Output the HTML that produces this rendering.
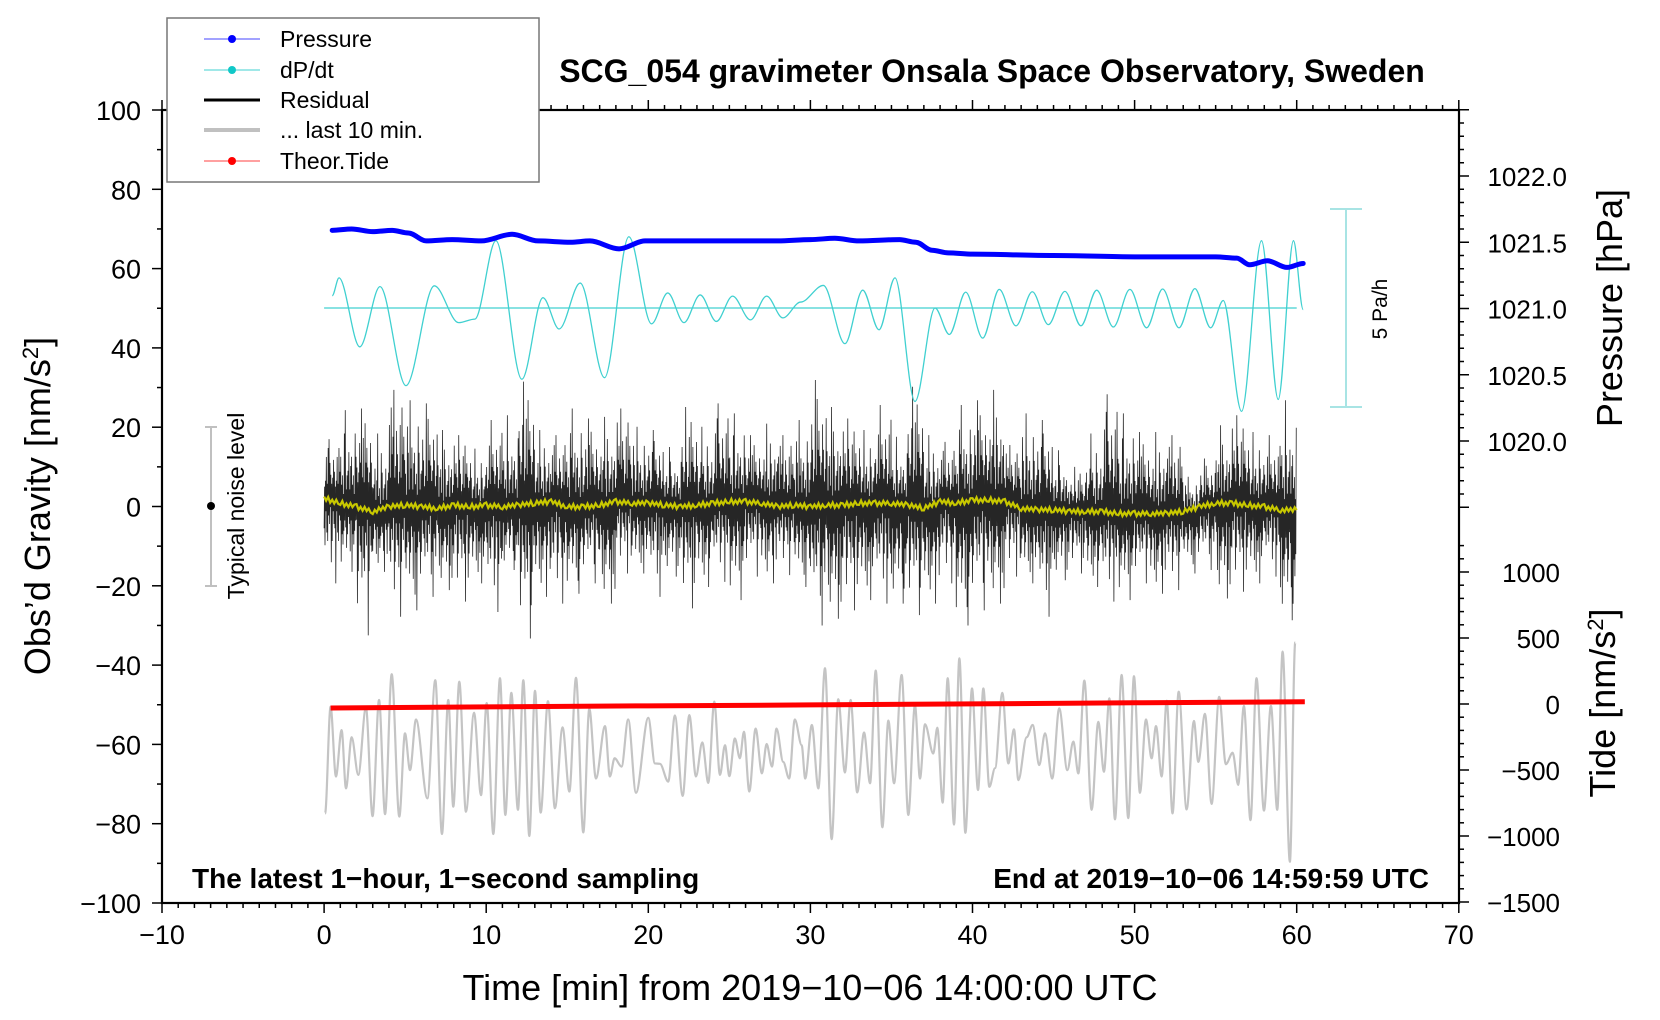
<!DOCTYPE html>
<html><head><meta charset="utf-8"><style>
html,body{margin:0;padding:0;background:#fff;}
svg{display:block;font-family:"Liberation Sans",Arial,sans-serif;}
</style></head><body>
<svg id="chart" width="1660" height="1020" viewBox="0 0 1660 1020" xmlns="http://www.w3.org/2000/svg">
<rect x="0" y="0" width="1660" height="1020" fill="#fff"/>
<g id="series"></g>
<g id="axes"></g>
<text x="992" y="82" font-size="32" font-weight="bold" text-anchor="middle">SCG_054 gravimeter Onsala Space Observatory, Sweden</text>
<text x="192" y="888" font-size="28" font-weight="bold">The latest 1−hour, 1−second sampling</text>
<text x="1429" y="888" font-size="28" font-weight="bold" text-anchor="end">End at 2019−10−06 14:59:59 UTC</text>
<text x="810" y="1000" font-size="36" text-anchor="middle">Time [min] from 2019−10−06 14:00:00 UTC</text>
<text transform="translate(50,506) rotate(-90)" font-size="36" text-anchor="middle">Obs’d Gravity [nm/s<tspan font-size="22" baseline-shift="super">2</tspan>]</text>
<text transform="translate(1622,308) rotate(-90)" font-size="36" text-anchor="middle">Pressure [hPa]</text>
<text transform="translate(1615,703) rotate(-90)" font-size="36" text-anchor="middle">Tide [nm/s<tspan font-size="22" baseline-shift="super">2</tspan>]</text>
<g>
<line x1="211" y1="427" x2="211" y2="586" stroke="#c0c0c0" stroke-width="2"/>
<line x1="205" y1="427" x2="217" y2="427" stroke="#c0c0c0" stroke-width="2"/>
<line x1="205" y1="586" x2="217" y2="586" stroke="#c0c0c0" stroke-width="2"/>
<circle cx="211" cy="506" r="4" fill="#000"/>
<text transform="translate(244,506) rotate(-90)" font-size="23" text-anchor="middle">Typical noise level</text>
</g>
<g>
<line x1="1346" y1="209" x2="1346" y2="407" stroke="#a8e4e4" stroke-width="2"/>
<line x1="1330" y1="209" x2="1362" y2="209" stroke="#a8e4e4" stroke-width="2"/>
<line x1="1330" y1="407" x2="1362" y2="407" stroke="#a8e4e4" stroke-width="2"/>
<text transform="translate(1387,309) rotate(-90)" font-size="21" text-anchor="middle">5 Pa/h</text>
</g>
<g>
<rect x="167" y="18" width="372" height="164" fill="#fff" stroke="#777" stroke-width="1.5"/>
<g><line x1="204" y1="39" x2="260" y2="39" stroke="#4444ff" stroke-width="1"/><circle cx="232" cy="39" r="4" fill="#0000ff"/><text x="280" y="47" font-size="23">Pressure</text></g>
<g><line x1="204" y1="70" x2="260" y2="70" stroke="#40d0d0" stroke-width="1"/><circle cx="232" cy="70" r="4" fill="#10c8c8"/><text x="280" y="78" font-size="23">dP/dt</text></g>
<g><line x1="204" y1="100" x2="260" y2="100" stroke="#000" stroke-width="3"/><text x="280" y="108" font-size="23">Residual</text></g>
<g><line x1="204" y1="130" x2="260" y2="130" stroke="#c0c0c0" stroke-width="4"/><text x="280" y="138" font-size="23">... last 10 min.</text></g>
<g><line x1="204" y1="161" x2="260" y2="161" stroke="#ff4040" stroke-width="1"/><circle cx="232" cy="161" r="4" fill="#ff0000"/><text x="280" y="169" font-size="23">Theor.Tide</text></g>
</g>
</svg>
<script>
// ---- data ----
const pressT = [0.5,1.7,3,4.2,5.2,6.3,7.9,9.7,11.6,13.2,15.2,16.4,18.2,19.8,22,25,28,30,31.5,33,35.5,36.5,37.5,38.5,40,45,50,55,56.3,57.1,58.2,59.4,60.4];
const pressV = [1021.59,1021.60,1021.58,1021.59,1021.57,1021.51,1021.52,1021.51,1021.56,1021.51,1021.50,1021.51,1021.45,1021.51,1021.51,1021.51,1021.51,1021.52,1021.53,1021.51,1021.52,1021.50,1021.44,1021.42,1021.41,1021.40,1021.39,1021.39,1021.38,1021.33,1021.36,1021.31,1021.34];
const dpdtT = [0.5,0.92,2.2,3.45,5.05,6.8,8.3,9.3,10.6,12.2,13.5,14.5,15.8,17.3,18.8,20.2,21.2,22.2,23.2,24.2,25.2,26.3,27.3,28.3,29.4,30.8,32.13,33.23,34.23,35.22,36.45,37.69,38.57,39.58,40.63,41.65,42.68,43.69,44.68,45.7,46.69,47.66,48.69,49.71,50.74,51.73,52.74,53.72,54.69,55.47,56.6,57.83,58.86,59.8,60.4];
const dpdtV = [0.31,0.76,-0.98,0.54,-1.96,0.56,-0.37,-0.28,1.7,-1.8,0.26,-0.53,0.63,-1.76,1.8,-0.4,0.38,-0.37,0.33,-0.34,0.3,-0.3,0.3,-0.25,0.15,0.57,-0.9,0.45,-0.55,0.76,-2.36,0.0,-0.67,0.4,-0.76,0.47,-0.45,0.41,-0.42,0.42,-0.45,0.45,-0.48,0.47,-0.5,0.48,-0.5,0.49,-0.5,0.19,-2.61,1.7,-2.31,1.7,-0.04];
const resHi = [17,24.3,24.7,18.4,29.4,26.8,26,19.3,18,14.6,21.8,23,31.5,19.3,18,24.7,22.2,22.6,24.7,20.1,19.3,15,25.1,20.1,26,23.5,18,20.9,18,21.8,31.9,25.1,22.2,19.3,25.6,17.6,30.2,18,16.3,25.6,26.8,29.4,15.5,23.5,21.8,14.2,10,18.4,28.3,23.5,18.8,18.8,18,7.5,12.1,20.5,23,18.8,18,26.8];
const resLo = [-19.4,-16.5,-32.5,-16.5,-27.8,-26.2,-22.8,-21.1,-24,-19.4,-26.6,-16,-33.3,-22.8,-24.5,-22,-19.4,-24.5,-16.9,-16.9,-22.8,-17.7,-25.7,-20.3,-19,-23.6,-17.7,-19.4,-17.3,-20.3,-30,-28.3,-26.2,-23.6,-24.5,-24.5,-27.4,-24.5,-19.4,-30,-26.2,-24.5,-17.7,-19.4,-27.8,-18.6,-16.9,-20.3,-24,-23.6,-19.4,-22,-21.1,-16.9,-16,-23.2,-21.5,-19.4,-17.7,-28.7];
const smoothV = [2.0,0.8,-0.1,-1.3,-0.1,0.3,-0.1,-0.5,0.3,-0.1,0.3,-0.1,0.3,0.8,1.2,-0.1,-0.1,0.3,1.2,0.8,0.8,0.3,-0.1,0.3,0.8,1.2,1.2,0.8,-0.1,0.3,-0.1,0.3,0.3,0.8,0.8,0.8,0.3,-0.5,1.2,0.8,1.6,1.6,1.2,-0.5,-0.9,-0.9,-1.3,-1.3,-1.3,-1.8,-1.8,-1.8,-1.8,-1.3,-0.1,0.8,0.8,0.3,-0.1,-0.9,-0.9];
const greyT = [0.06,0.40,0.73,1.08,1.35,1.70,2.11,2.58,2.99,3.39,3.76,4.17,4.64,4.99,5.30,5.67,6.37,6.86,7.27,7.66,7.97,8.34,8.75,9.25,9.68,10.03,10.44,10.85,11.18,11.55,11.96,12.29,12.66,13.01,13.36,13.81,14.24,14.71,15.13,15.54,15.99,16.36,16.77,17.33,17.63,17.92,18.35,18.76,19.24,20.0,20.41,20.72,21.23,21.64,22.12,22.53,22.94,23.33,23.70,24.07,24.42,24.73,25.0,25.34,25.65,25.90,26.23,26.62,27.01,27.30,27.63,27.91,28.32,28.69,29.04,29.46,29.68,30.09,30.49,30.90,31.31,31.72,32.13,32.48,32.89,33.31,33.68,34.03,34.44,34.81,35.16,35.63,36.04,36.45,36.76,37.07,37.58,37.83,38.16,38.47,38.86,39.19,39.56,39.97,40.34,40.67,41.04,41.39,41.84,42.21,42.56,42.83,43.34,43.71,44.12,44.47,44.92,45.35,45.85,46.22,46.53,46.90,47.35,47.76,48.11,48.44,48.79,49.20,49.61,49.96,50.33,50.70,51.05,51.32,51.67,51.98,52.34,52.72,53.21,53.66,53.93,54.34,54.75,55.22,55.63,56.05,56.39,56.74,57.15,57.52,57.98,58.41,58.80,59.13,59.58,59.91];
const greyV = [-77.4,-50.5,-68.1,-56.4,-71.1,-58.2,-67.7,-50.7,-78.1,-48.8,-77.6,-42.3,-78.2,-57.2,-66.5,-53.7,-73.6,-43.8,-82.6,-48.8,-75.7,-44.2,-77.0,-52.0,-72.8,-49.6,-82.6,-43.3,-77.8,-47.0,-76.5,-43.8,-83.1,-46.5,-77.2,-49.1,-76.1,-55.7,-71.9,-43.2,-82.2,-51.0,-68.6,-55.4,-68.1,-63.5,-65.6,-53.7,-72.2,-53.3,-64.8,-64.9,-69.4,-52.7,-73.0,-52.6,-68.1,-59.5,-69.7,-49.2,-67.7,-60.2,-68.0,-58.5,-63.5,-56.8,-71.9,-56.0,-67.3,-59.9,-65.6,-56.0,-64.4,-68.6,-53.7,-60.2,-68.6,-55.1,-71.1,-40.8,-83.9,-48.6,-67.1,-48.8,-72.1,-57.0,-69.8,-41.4,-80.9,-54.0,-69.8,-42.5,-77.8,-50.1,-68.6,-54.9,-62.3,-55.8,-74.7,-43.3,-80.2,-38.3,-82.3,-45.9,-71.5,-45.9,-70.7,-66.0,-47.0,-64.8,-56.2,-69.0,-58.2,-55.1,-65.2,-57.2,-68.6,-50.9,-66.5,-59.3,-67.3,-43.9,-76.5,-54.3,-66.9,-48.4,-78.9,-42.5,-78.6,-42.8,-72.2,-53.7,-63.5,-55.4,-68.1,-49.0,-77.4,-46.7,-76.4,-54.1,-64.4,-52.3,-75.0,-48.0,-65.0,-62.1,-70.2,-50.3,-79.1,-43.3,-76.7,-50.3,-76.5,-36.6,-89.6,-34.3];
const tideT = [0.4,10,20,30,40,50,60.5];
const tideV = [-30,-22,-14,-7,1,9,17];
const xTicks = [-10,0,10,20,30,40,50,60,70];
const yTicks = [-100,-80,-60,-40,-20,0,20,40,60,80,100];
const pTicks = [1020.0,1020.5,1021.0,1021.5,1022.0];
const tTicks = [-1500,-1000,-500,0,500,1000];

// ---- scales ----
const X = t => 324.1 + t*16.21;
const Yg = g => 506.5 - g*3.965;
const Yp = p => 176 + (1022 - p)*132.5;
const Yt = v => 704 - v*0.132;
const Yd = v => 308 - v*39.6;
const NS = 'http://www.w3.org/2000/svg';
const series = document.getElementById('series');
const axes = document.getElementById('axes');
function mk(tag, attrs, parent){ const e=document.createElementNS(NS,tag); for(const k in attrs) e.setAttribute(k,attrs[k]); parent.appendChild(e); return e; }
function smoothPath(ts, vs, fy){
  let d='M'+X(ts[0]).toFixed(2)+','+fy(vs[0]).toFixed(2);
  for(let i=1;i<ts.length;i++){
    const x0=X(ts[i-1]), x1=X(ts[i]), y0=fy(vs[i-1]), y1=fy(vs[i]), dx=(x1-x0)/3;
    d+=' C'+(x0+dx).toFixed(2)+','+y0.toFixed(2)+' '+(x1-dx).toFixed(2)+','+y1.toFixed(2)+' '+x1.toFixed(2)+','+y1.toFixed(2);
  }
  return d;
}

const grey = mk('path',{d:smoothPath(greyT,greyV,Yg),fill:'none',stroke:'#c4c4c4','stroke-width':2.2},series);



let td='';
tideT.forEach((t,i)=>{ td+=(i?' L':'M')+X(t).toFixed(2)+','+Yt(tideV[i]).toFixed(2); });
const tide = mk('path',{d:td,fill:'none',stroke:'#ff0000','stroke-width':5},series);



const mags=[0.35,0.2,0.55,0.3,0.15,0.7,0.4,0.25,0.5,0.85,0.2,0.45,0.3,0.6,0.1,0.4,0.75,0.25,0.5,0.35,0.15,0.65,0.3,0.45];
const N=36;
let rd='';
for(let i=0;i<resHi.length;i++){
  const mid=smoothV[i];
  for(let s=0;s<N;s++){
    const sign = s%2 ? 1 : -1;
    let m = mags[(s+i*7)%mags.length];
    if(s===11) m=1; if(s===26) m=1;
    const v = sign>0 ? mid + m*(resHi[i]-mid) : mid + m*(resLo[i]-mid);
    rd += (rd?' L':'M')+X(i+s/N).toFixed(2)+','+Yg(v).toFixed(2);
  }
}
const res = mk('path',{d:rd,fill:'none',stroke:'#000','stroke-width':0.8,'stroke-opacity':0.85},series);



const jit=[0.5,-0.4,0.7,-0.6,0.3,-0.5,0.6,-0.3];
let sd='';
for(let i=0;i<smoothV.length-1;i++){
  for(let s=0;s<8;s++){
    const f=s/8, v=smoothV[i]*(1-f)+smoothV[i+1]*f + jit[(s+i)%8];
    sd+=(sd?' L':'M')+X(i+f).toFixed(2)+','+Yg(v).toFixed(2);
  }
}
sd+=' L'+X(smoothV.length-1).toFixed(2)+','+Yg(smoothV[smoothV.length-1]).toFixed(2);
const sm = mk('path',{d:sd,fill:'none',stroke:'#c8c800','stroke-width':2.2},series);



const base = mk('line',{x1:X(0),y1:Yd(0),x2:X(60),y2:Yd(0),stroke:'#40d0d0','stroke-width':1.2},series);


const dp = mk('path',{d:smoothPath(dpdtT,dpdtV,Yd),fill:'none',stroke:'#40d0d0','stroke-width':1.3},series);



const pr = mk('path',{d:smoothPath(pressT,pressV,Yp),fill:'none',stroke:'#0000ff','stroke-width':5,'stroke-linecap':'round'},series);



const frame = mk('rect',{x:162,y:110,width:1297,height:793,fill:'none',stroke:'#000','stroke-width':2.2},axes);


for(let t=-10;t<=70;t++){
  const major = t%10===0, L = major?10:5, x=X(t);
  mk('line',{x1:x,y1:110,x2:x,y2:110-L,stroke:'#000','stroke-width':1.5},axes);
  mk('line',{x1:x,y1:903,x2:x,y2:903+L,stroke:'#000','stroke-width':1.5},axes);
}
xTicks.forEach(t=>{
  const lb = mk('text',{x:X(t),y:944,'font-size':27,'text-anchor':'middle'},axes);
  lb.textContent = String(t).replace('-','−');
  
  
});
for(let g=-100;g<=100;g+=10){
  const major = g%20===0, L = major?10:5;
  mk('line',{x1:162,y1:Yg(g),x2:162-L,y2:Yg(g),stroke:'#000','stroke-width':1.5},axes);
}
yTicks.forEach(g=>{
  const lb = mk('text',{x:141,y:Yg(g)+10,'font-size':27,'text-anchor':'end'},axes);
  lb.textContent = String(g).replace('-','−');
  
  
});
for(let k=0;k<=30;k++){
  const p = 1019.5 + k*0.1, major = k%5===0, L = major?10:5;
  mk('line',{x1:1459,y1:Yp(p),x2:1459+L,y2:Yp(p),stroke:'#000','stroke-width':1.5},axes);
}
pTicks.forEach(p=>{
  const lb = mk('text',{x:1567,y:Yp(p)+10,'font-size':26,'text-anchor':'end'},axes);
  lb.textContent = p.toFixed(1);
  
  
});
for(let v=-1500;v<=1200;v+=100){
  const major = v%500===0, L = major?10:5;
  mk('line',{x1:1459,y1:Yt(v),x2:1459+L,y2:Yt(v),stroke:'#000','stroke-width':1.5},axes);
}
tTicks.forEach(v=>{
  const lb = mk('text',{x:1560,y:Yt(v)+10,'font-size':26,'text-anchor':'end'},axes);
  lb.textContent = String(v).replace('-','−');
  
  
});
</script>
</body></html>
